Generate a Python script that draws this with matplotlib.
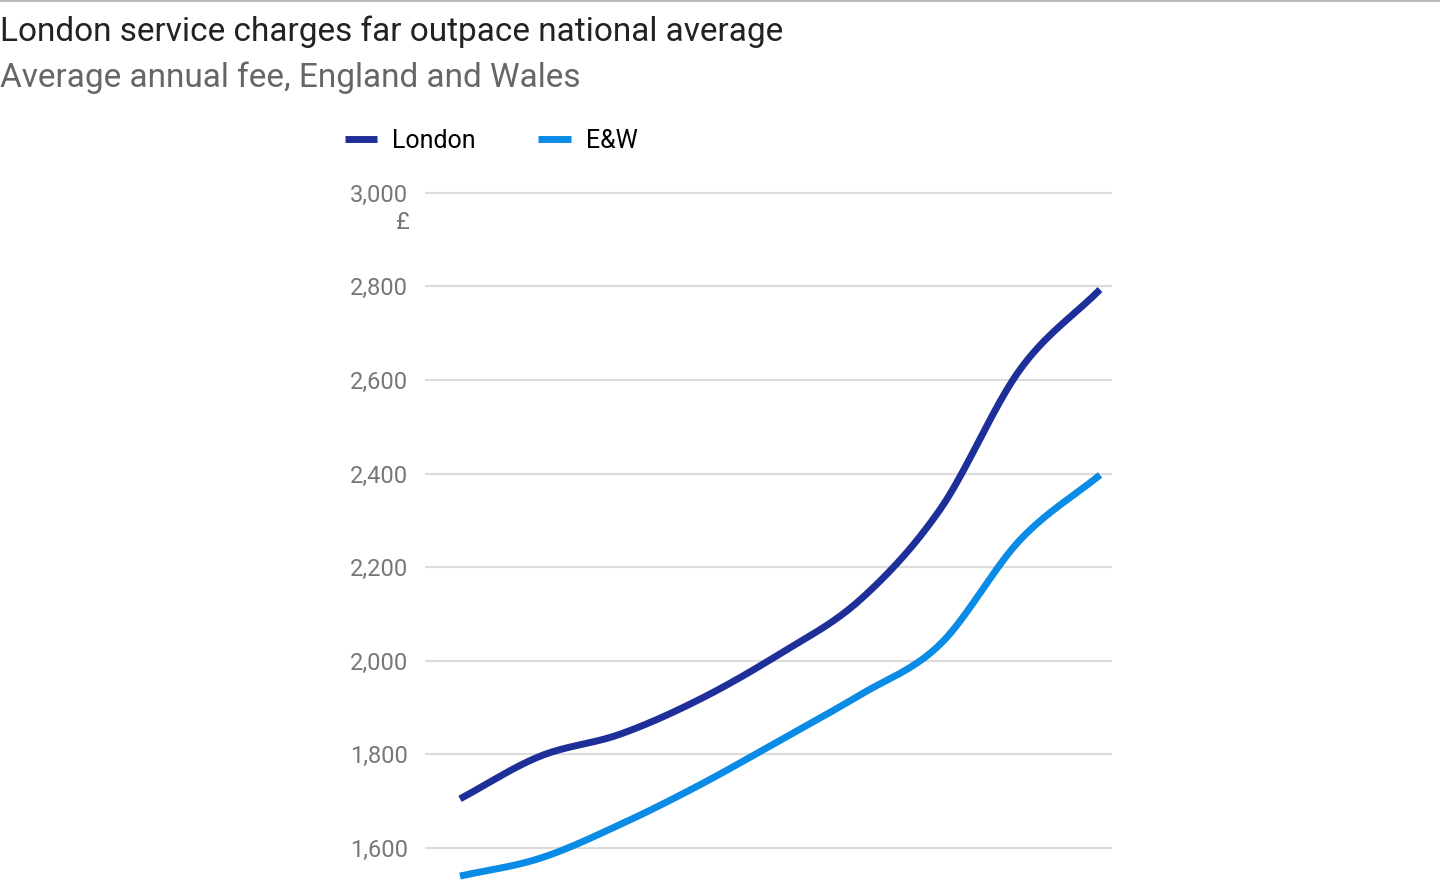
import matplotlib
matplotlib.use("Agg")
import matplotlib.pyplot as plt
import numpy as np

years = list(range(9))
london = [1705, 1796, 1843, 1918, 2015, 2130, 2323, 2622, 2793]
ew = [1540, 1578, 1650, 1735, 1830, 1927, 2035, 2258, 2397]
yticks = [1600, 1800, 2000, 2200, 2400, 2600, 2800, 3000]

def smooth(x, y, n=20):
    x = np.asarray(x, float); y = np.asarray(y, float)
    xs, ys = [], []
    for i in range(len(x) - 1):
        p0 = y[i-1] if i > 0 else 2*y[0]-y[1]
        p3 = y[i+2] if i+2 < len(y) else 2*y[-1]-y[-2]
        p1, p2 = y[i], y[i+1]
        t = np.linspace(0, 1, n, endpoint=False)
        ys.extend(0.5*((2*p1) + (-p0+p2)*t + (2*p0-5*p1+4*p2-p3)*t**2 + (-p0+3*p1-3*p2+p3)*t**3))
        xs.extend(x[i] + t*(x[i+1]-x[i]))
    xs.append(x[-1]); ys.append(y[-1])
    return xs, ys

plt.rcParams['font.family'] = ['Roboto', 'DejaVu Sans']
fig = plt.figure(figsize=(14.4, 8.8), dpi=100)
ax = fig.add_axes([425/1440, 0, (1112-425)/1440, (880-188)/880])
ax.set_xlim(-0.4375, 8.15)
ax.set_ylim(1531.6, 3010)
for v in yticks:
    ax.axhline(v, color='#dcdcdc', lw=1.5, zorder=0)
ax.plot(*smooth(years, london), color='#1f2f99', lw=5, solid_capstyle='butt', label='London')
ax.plot(*smooth(years, ew), color='#0a8ce6', lw=5, solid_capstyle='butt', label='E&W')
ax.set_yticks(yticks)
ax.set_yticklabels([f"{v:,}" for v in yticks], color='#777777', fontsize=17)
ax.tick_params(axis='y', length=0, pad=12)
ax.set_xticks([])
for s in ax.spines.values():
    s.set_visible(False)
ax.text(-0.0225, 2936, "£", transform=ax.get_yaxis_transform(), ha='right', va='center',
        color='#777777', fontsize=17)
fig.add_artist(plt.Line2D([0, 1], [879/880, 879/880], color='#bbbbbb', lw=1.5))
fig.text(0.0, 1-32/880, "London service charges far outpace national average", fontsize=24,
         color='#222222', va='center', ha='left')
fig.text(0.0, 1-78/880, "Average annual fee, England and Wales", fontsize=24,
         color='#666666', va='center', ha='left')
fig.legend(loc='center left', bbox_to_anchor=(322/1440, 1-141/880), ncol=2, frameon=False,
           fontsize=18, handlelength=1.3, columnspacing=2.5, handletextpad=0.6)
fig.savefig("out.png", dpi=100)
